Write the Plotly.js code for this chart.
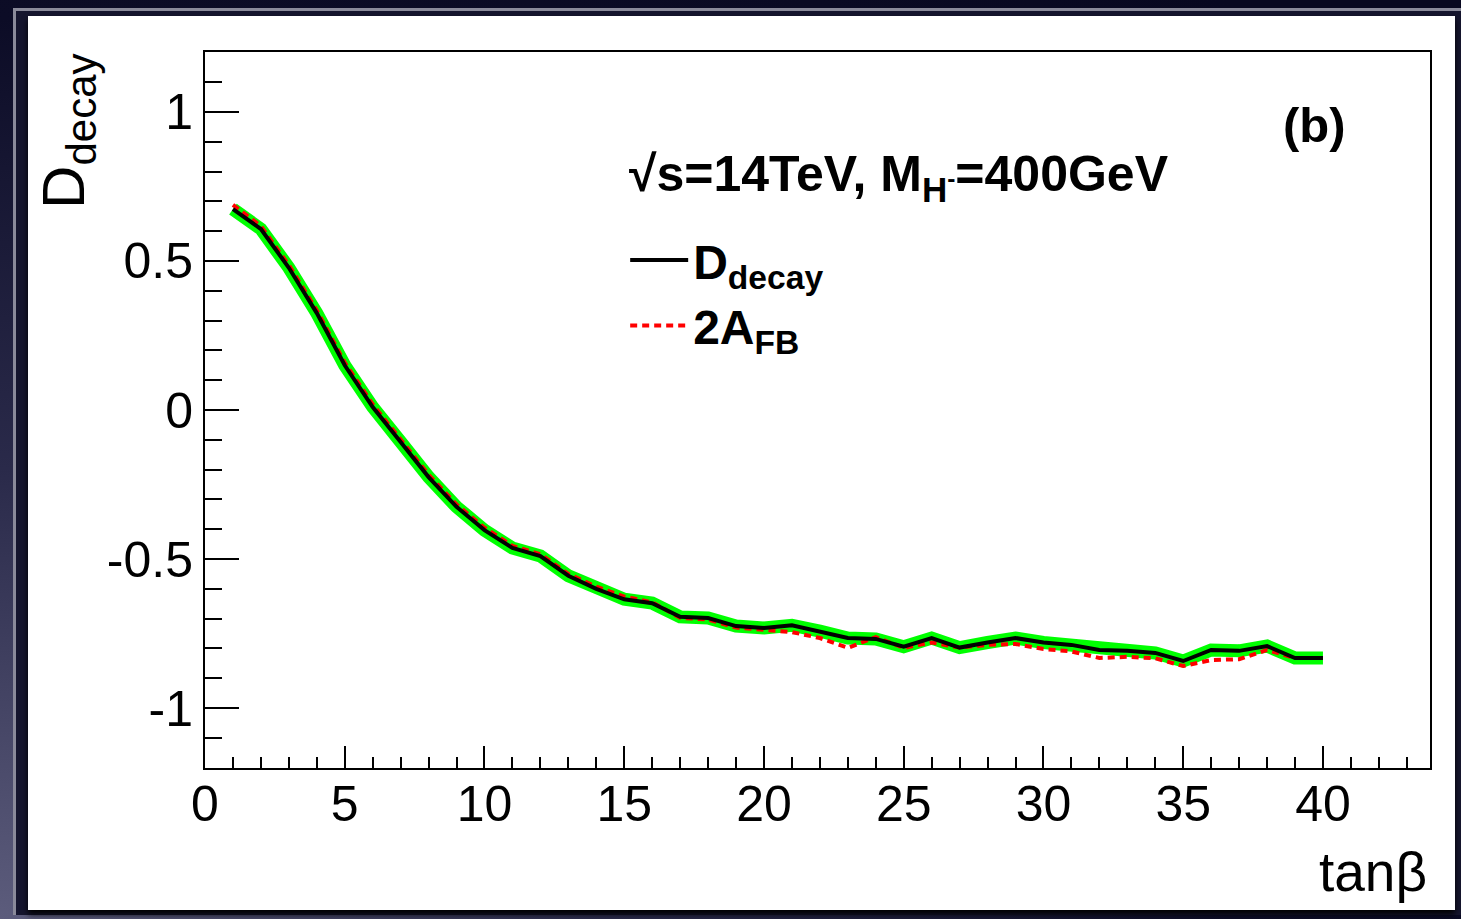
<!DOCTYPE html>
<html>
<head>
<meta charset="utf-8">
<script src="https://cdn.plot.ly/plotly-3.0.1.min.js"></script>
<style>
  html, body { margin: 0; padding: 0; width: 1461px; height: 919px; overflow: hidden; }
  body { background: radial-gradient(ellipse 120% 140% at 0% 100%, #5c5c7c 0%, #2a2a4a 35%, #0c0c26 70%, #080820 100%); }
  #frame { position: absolute; left: 13px; top: 8px; width: 1445px; height: 904px;
           border-left: 3px solid #8a8a9a; border-top: 3px solid #8a8a9a; border-right: 3px solid #8a8a9a;
           background: #15152e; }
  #panel { position: absolute; left: 28px; top: 16px; width: 1427px; height: 894px; background: #ffffff;
           box-shadow: 0 4px 6px #000; }
  #chart { position: absolute; left: 0; top: 0; width: 1427px; height: 894px; }
</style>
</head>
<body>
<div id="frame"></div>
<div id="panel"><div id="chart"></div></div>
<script>
// tan(beta) values
const tanBeta = [1,2,3,4,5,6,7,8,9,10,11,12,13,14,15,16,17,18,19,20,
                 21,22,23,24,25,26,27,28,29,30,31,32,33,34,35,36,37,38,39,40];
// D_decay (black solid line, green band drawn around it)
const dDecay = [0.674,0.607,0.477,0.325,0.15,0.01,-0.107,-0.225,-0.325,-0.403,
                -0.463,-0.49,-0.556,-0.60,-0.635,-0.648,-0.694,-0.698,-0.725,-0.731,
                -0.722,-0.742,-0.765,-0.768,-0.794,-0.765,-0.797,-0.78,-0.765,-0.78,
                -0.788,-0.805,-0.808,-0.815,-0.842,-0.805,-0.808,-0.792,-0.832,-0.832];
// 2 A_FB (red dashed line)
const twoAFB = [0.688,0.617,0.486,0.334,0.159,0.019,-0.099,-0.217,-0.317,-0.395,
                -0.456,-0.484,-0.55,-0.593,-0.626,-0.645,-0.697,-0.703,-0.73,-0.737,
                -0.745,-0.765,-0.798,-0.762,-0.798,-0.78,-0.797,-0.788,-0.785,-0.802,
                -0.81,-0.832,-0.828,-0.833,-0.859,-0.839,-0.836,-0.805,-0.832,-0.832];
// axis ticks
const xTickVals = [0,5,10,15,20,25,30,35,40];
const xTickText = ['0','5','10','15','20','25','30','35','40'];
const yTickVals = [1,0.5,0,-0.5,-1];
const yTickText = ['1','0.5','0','-0.5','-1'];

const FONT = '"Liberation Sans", Arial, Helvetica, sans-serif';

const traces = [
  { x: tanBeta, y: dDecay, mode: 'lines', line: { color: '#00ff00', width: 13 },
    showlegend: false, hoverinfo: 'skip' },
  { x: tanBeta, y: twoAFB, mode: 'lines', name: '2A<sub>FB</sub>', legendrank: 2,
    line: { color: '#ff0000', width: 4, dash: '7px,5px' } },
  { x: tanBeta, y: dDecay, mode: 'lines', name: 'D<sub>decay</sub>', legendrank: 1,
    line: { color: '#000000', width: 4 } }
];

const layout = {
  width: 1427, height: 894,
  margin: { l: 177, r: 25, t: 36, b: 142 },
  paper_bgcolor: 'rgba(0,0,0,0)',
  plot_bgcolor: '#ffffff',
  font: { family: FONT, color: '#000' },
  showlegend: true,
  legend: {
    x: 0.343, y: 0.762, xanchor: 'left', yanchor: 'top',
    bgcolor: 'rgba(0,0,0,0)', borderwidth: 0,
    font: { family: FONT, size: 48, weight: 'bold', color: '#000' },
    traceorder: 'normal', itemwidth: 58, valign: 'bottom'
  },
  xaxis: {
    range: [0, 43.83], showgrid: false, zeroline: false,
    showline: true, linecolor: '#000', linewidth: 2, mirror: true,
    ticks: 'inside', ticklen: 22, tickwidth: 2, tickcolor: '#000',
    tickvals: xTickVals, ticktext: xTickText, ticklabelstandoff: -9,
    tickfont: { family: FONT, size: 50, color: '#000' },
    minor: { dtick: 1, ticks: 'inside', ticklen: 11, tickwidth: 2, tickcolor: '#000', showgrid: false }
  },
  yaxis: {
    range: [-1.201, 1.201], showgrid: false, zeroline: false,
    showline: true, linecolor: '#000', linewidth: 2, mirror: true,
    ticks: 'inside', ticklen: 34, tickwidth: 2, tickcolor: '#000',
    tickvals: yTickVals, ticktext: yTickText,
    tickfont: { family: FONT, size: 50, color: '#000' },
    minor: { dtick: 0.1, ticks: 'inside', ticklen: 17, tickwidth: 2, tickcolor: '#000', showgrid: false }
  },
  annotations: [
    { xref: 'paper', yref: 'paper', x: -0.145, y: 1.0, xanchor: 'left', yanchor: 'top',
      text: 'D<sub>decay</sub>', textangle: -90, showarrow: false,
      font: { family: FONT, size: 60, color: '#000' } },
    { xref: 'paper', yref: 'paper', x: 0.999, y: -0.145, xanchor: 'right', yanchor: 'middle',
      text: 'tanβ', showarrow: false, font: { family: FONT, size: 55, color: '#000' } },
    { xref: 'paper', yref: 'paper', x: 0.906, y: 0.898, xanchor: 'center', yanchor: 'middle',
      text: '(b)', showarrow: false, font: { family: FONT, size: 49, weight: 'bold', color: '#000' } },
    { xref: 'paper', yref: 'paper', x: 0.3445, y: 0.872, xanchor: 'left', yanchor: 'top',
      text: '√s=14TeV, M<sub>H<sup>-</sup></sub>=400GeV', showarrow: false,
      font: { family: FONT, size: 50, weight: 'bold', color: '#000' } }
  ]
};

Plotly.newPlot('chart', traces, layout, { staticPlot: true, displayModeBar: false });
</script>
</body>
</html>
